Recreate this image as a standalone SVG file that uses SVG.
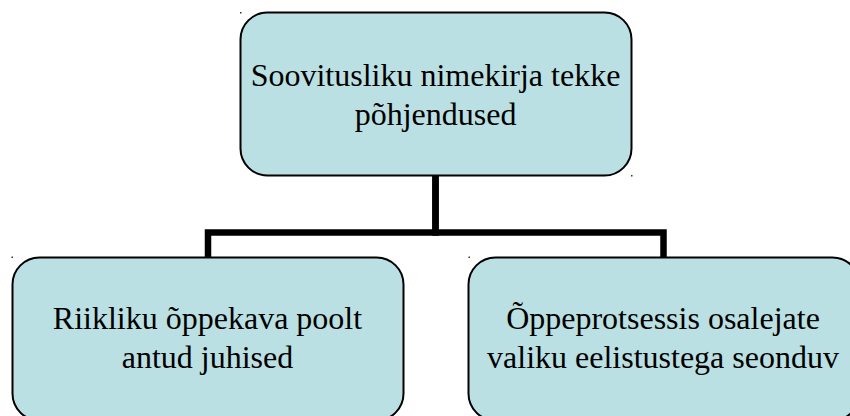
<svg xmlns="http://www.w3.org/2000/svg" width="850" height="416" viewBox="0 0 850 416">
  <style>
    .box { fill: #BBE0E3; stroke: #000; stroke-width: 2; }
    .conn { fill: none; stroke: #000; stroke-width: 6.5; stroke-linejoin: miter; stroke-linecap: butt; }
    .lbl { font-family: 'Times New Roman', 'Liberation Serif', 'DejaVu Serif', serif; font-size: 32px; fill: #000; text-anchor: middle; }
    .dot { fill: #333; }
  </style>
  <rect x="0" y="0" width="850" height="416" fill="#fff"/>
  <g id="connectors">
    <path class="conn" d="M435.5,175 V232.5 H208 V258"/>
    <path class="conn" d="M435.5,175 V232.5 H663.5 V258"/>
  </g>
  <g id="node-root">
    <rect class="box" x="240.5" y="12.5" width="391" height="163" rx="27" ry="27"/>
    <text class="lbl" x="435.5" y="86">Soovitusliku nimekirja tekke</text>
    <text class="lbl" x="435.5" y="125">põhjendused</text>
  </g>
  <g id="node-left">
    <rect class="box" x="12.5" y="257.5" width="391" height="163" rx="27" ry="27"/>
    <text class="lbl" x="207.5" y="328.5">Riikliku õppekava poolt</text>
    <text class="lbl" x="207.5" y="368">antud juhised</text>
  </g>
  <g id="node-right">
    <rect class="box" x="468.5" y="257.5" width="391" height="163" rx="27" ry="27"/>
    <text class="lbl" x="663" y="328.5">Õppeprotsessis osalejate</text>
    <text class="lbl" x="663" y="368">valiku eelistustega seonduv</text>
  </g>
  <g id="marks">
    <rect class="dot" x="240" y="12" width="1.5" height="1.5"/>
    <rect class="dot" x="631" y="175" width="1.5" height="1.5"/>
    <rect class="dot" x="11.5" y="256.5" width="1.5" height="1.5"/>
    <rect class="dot" x="468.5" y="256.5" width="1.5" height="1.5"/>
  </g>
</svg>
